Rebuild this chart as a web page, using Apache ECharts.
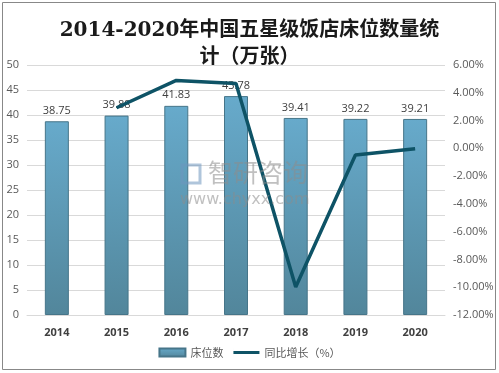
<!DOCTYPE html>
<html><head><meta charset="utf-8">
<script src="https://cdn.jsdelivr.net/npm/echarts@6/dist/echarts.min.js"></script>
<style>html,body{margin:0;padding:0;background:#fff}#c{width:499px;height:373px}</style>
</head><body><div id="c"></div>
<script>
const categories = ['2014','2015','2016','2017','2018','2019','2020'];
const beds = [38.75, 39.88, 41.83, 43.78, 39.41, 39.22, 39.21];
const growth = [null, 2.92, 4.89, 4.66, -9.98, -0.48, -0.03];
const leftTicks = {min:0, max:50, interval:5};
const rightTicks = {min:-12, max:6, interval:2};

const chart = echarts.init(document.getElementById('c'), null, {renderer:'canvas'});
const barGrad = new echarts.graphic.LinearGradient(0,0,0,1,[{offset:0,color:'#67aacb'},{offset:1,color:'#52869b'}]);
const wmFill = 'rgba(140,140,140,0.55)';
chart.setOption({
  backgroundColor:'#fff',
  animation:false,
  title:{text:'2014-2020年中国五星级饭店床位数量统\n计（万张）', left:'center', top:12,
    textStyle:{fontFamily:'"DejaVu Serif", "Noto Sans CJK SC", serif', fontSize:20, fontWeight:'bold', color:'#1a1a1a', lineHeight:27}},
  graphic:[
    {type:'rect', shape:{x:2.5,y:2.5,width:493,height:367}, style:{fill:'none', stroke:'#888', lineWidth:1}, silent:true},
    {type:'rect', zlevel:1, shape:{x:182,y:165,width:18,height:18}, style:{fill:'none', stroke:'rgba(110,150,190,0.55)', lineWidth:3}},
    {type:'text', left:208, top:160, zlevel:1, style:{text:'智研咨询', font:'25px "Noto Sans CJK SC", sans-serif', fill:wmFill}},
    {type:'text', left:180, top:192, zlevel:1, style:{text:'www.chyxx.com', font:'16px "DejaVu Sans", sans-serif', fill:wmFill}}
  ],
  grid:{left:27, right:54, top:65, bottom:58},
  legend:{bottom:10, left:'center', itemGap:10, itemWidth:26, itemHeight:8,
    textStyle:{fontSize:11, color:'#595959', fontFamily:'"Noto Sans CJK SC", sans-serif'},
    data:[{name:'床位数', icon:'rect'},
          {name:'同比增长（%）', icon:'path://M0,2.6h26v2.8h-26z M0,0h0.01v8h-0.01z'}]},
  xAxis:{type:'category', data:categories,
    axisLine:{show:true, lineStyle:{color:'#d9d9d9'}}, axisTick:{show:false},
    axisLabel:{fontSize:11, fontWeight:'bold', color:'#404040', margin:12, fontFamily:'"Open Sans", sans-serif'}},
  yAxis:[
    {type:'value', min:leftTicks.min, max:leftTicks.max, interval:leftTicks.interval,
      axisLine:{show:false}, axisTick:{show:false},
      splitLine:{lineStyle:{color:'#d9d9d9'}},
      axisLabel:{fontSize:11, color:'#595959', margin:8, fontFamily:'"Open Sans", sans-serif'}},
    {type:'value', min:rightTicks.min, max:rightTicks.max, interval:rightTicks.interval,
      axisLine:{show:false}, axisTick:{show:false}, splitLine:{show:false},
      axisLabel:{fontSize:11, color:'#595959', margin:8, fontFamily:'"Open Sans", sans-serif',
        formatter:v=>v.toFixed(2)+'%'}}
  ],
  series:[
    {name:'床位数', type:'bar', data:beds, barWidth:24, z:2,
      itemStyle:{color:barGrad, borderColor:'#467589', borderWidth:1},
      label:{show:true, position:'top', fontSize:11, color:'#404040', distance:5, fontFamily:'"Open Sans", sans-serif'}},
    {name:'同比增长（%）', type:'line', yAxisIndex:1, data:growth, z:3,
      symbol:'none', lineStyle:{color:'#0e5366', width:3.5}, itemStyle:{color:'#0e5366'}}
  ]
});
</script></body></html>
